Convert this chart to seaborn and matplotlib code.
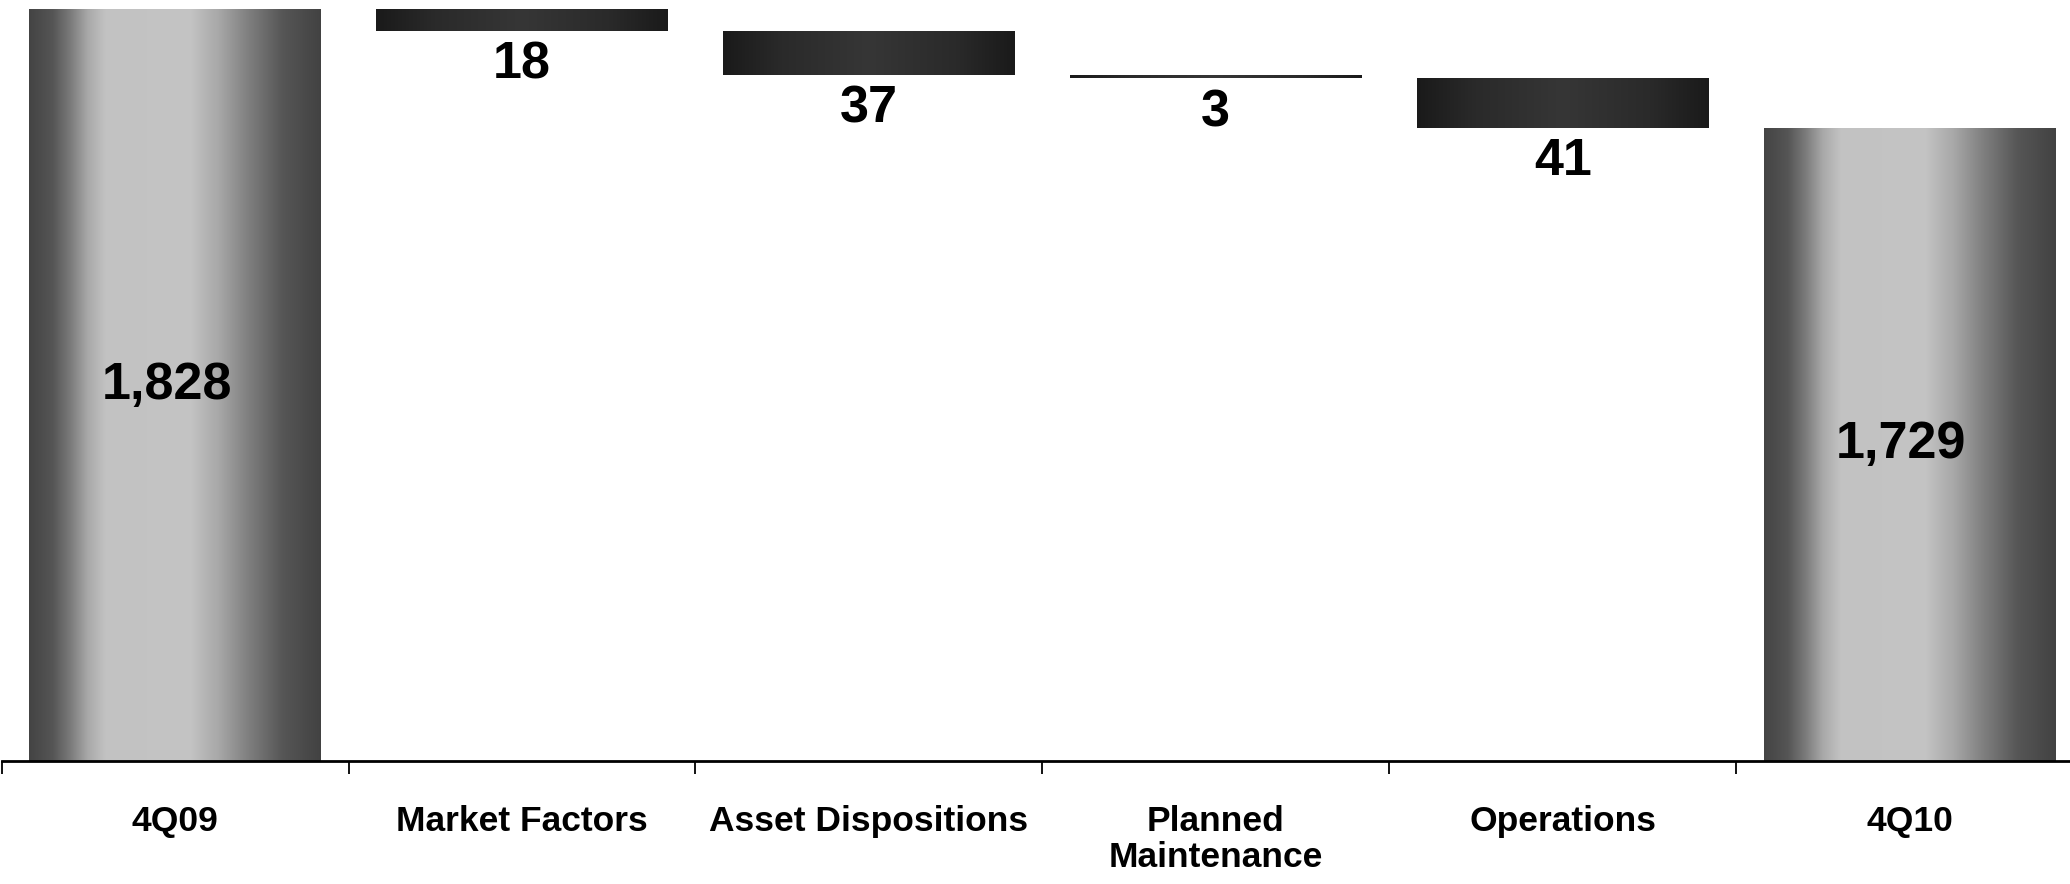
import numpy as np
import pandas as pd
import matplotlib
matplotlib.use("Agg")
import matplotlib.pyplot as plt
import seaborn as sns
from matplotlib.colors import LinearSegmentedColormap
from matplotlib.ticker import FixedLocator

categories = ["4Q09", "Market Factors", "Asset Dispositions", "Planned\nMaintenance", "Operations", "4Q10"]
values = [1828, -18, -37, -3, -41, 1729]
kinds = ["total", "delta", "delta", "delta", "delta", "total"]
value_labels = ["1,828", "18", "37", "3", "41", "1,729"]

bottoms, tops = [], []
running = 0
for v, k in zip(values, kinds):
    if k == "total":
        bottoms.append(0)
        tops.append(v)
        running = v
    else:
        new = running + v
        bottoms.append(min(new, running))
        tops.append(max(new, running))
        running = new

df = pd.DataFrame({"category": categories, "top": tops, "bottom": bottoms, "kind": kinds})

sns.set_theme(style="white")
plt.rcParams["font.family"] = ["Liberation Sans", "DejaVu Sans"]

fig = plt.figure(figsize=(20.7, 8.84), dpi=100)
ax = fig.add_axes([0.0008, 0.1386, 1.0055, 0.8614])

sns.barplot(data=df, x="category", y="top", ax=ax, width=0.84, color="black", saturation=1)

ylo, yhi = 1200, 1835.5
ax.set_ylim(ylo, yhi)
ax.set_xlim(-0.5, len(categories) - 0.5)

total_cmap = LinearSegmentedColormap.from_list(
    "tot", [(0, "#444444"), (0.08, "#555555"), (0.14, "#7a7a7a"), (0.2, "#a8a8a8"),
            (0.26, "#c2c2c2"), (0.55, "#c4c4c4"), (0.65, "#a8a8a8"), (0.75, "#808080"),
            (0.87, "#565656"), (1, "#424242")])
delta_cmap = LinearSegmentedColormap.from_list(
    "dlt", [(0, "#1a1a1a"), (0.2, "#2a2a2a"), (0.5, "#363636"), (0.8, "#2a2a2a"), (1, "#1a1a1a")])
grad = np.linspace(0, 1, 256).reshape(1, -1)

for i, p in enumerate(ax.patches):
    b, t = df["bottom"][i], df["top"][i]
    p.set_y(b)
    p.set_height(t - b)
    p.set_facecolor("none")
    p.set_edgecolor("none")
    x0 = p.get_x()
    w = p.get_width()
    cmap = total_cmap if df["kind"][i] == "total" else delta_cmap
    im = ax.imshow(grad, cmap=cmap, aspect="auto", extent=[x0, x0 + w, max(b, ylo), t],
                   interpolation="bicubic", zorder=2)
    im.set_clip_path(p)
    if df["kind"][i] == "total":
        ax.annotate(value_labels[i], (i, (max(b, ylo) + t) / 2), xytext=(-6, 0),
                    textcoords="offset points", ha="center", va="center",
                    fontsize=37.5, fontweight="bold", color="black", zorder=3)
    else:
        ax.annotate(value_labels[i], (i, b), xytext=(0, -7), textcoords="offset points",
                    ha="center", va="top", fontsize=37.5, fontweight="bold", color="black", zorder=3)

ax.set_xlim(-0.5, len(categories) - 0.5)
ax.set_ylim(ylo, yhi)

for s in ["top", "left", "right"]:
    ax.spines[s].set_visible(False)
ax.spines["bottom"].set_color("black")
ax.spines["bottom"].set_linewidth(2.0)
ax.set_yticks([])
ax.set_xlabel("")
ax.set_ylabel("")

ax.xaxis.set_minor_locator(FixedLocator(np.arange(-0.5, len(categories), 1.0)))
ax.tick_params(axis="x", which="minor", direction="out", length=9.5, width=1.3,
               color="black", bottom=True)
ax.tick_params(axis="x", which="major", length=0, pad=31)
ax.set_xticks(range(len(categories)))
ax.set_xticklabels(categories, fontsize=25.5, fontweight="bold", color="black", linespacing=1.15)

fig.savefig("out.png", dpi=100)
